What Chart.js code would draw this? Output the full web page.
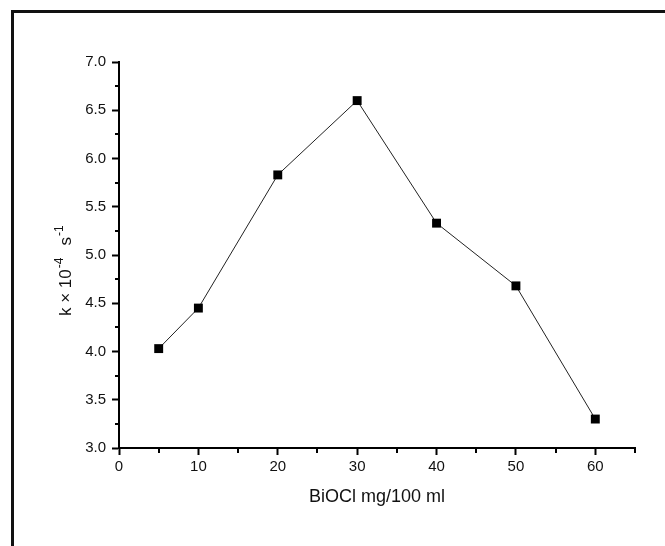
<!DOCTYPE html>
<html>
  <head>
    <script src="https://cdn.jsdelivr.net/npm/chart.js"></script>
    <style>
      body { margin: 0; background: #fff; }
      #rate { display: block; }
    </style>
  </head>

  <body>
    <canvas id="rate" width="665" height="546"></canvas>
  </body>

  <script>
    // BiOCl loading (mg/100 ml) vs rate constant k (x 10^-4 s^-1)
    const doses = [5, 10, 20, 30, 40, 50, 60];
    const rateK = [4.03, 4.45, 5.83, 6.6, 5.33, 4.68, 3.3];

    const xLabels = [0, 10, 20, 30, 40, 50, 60];
    const yLabels = [3.0, 3.5, 4.0, 4.5, 5.0, 5.5, 6.0, 6.5, 7.0];

    const FONT = "'Liberation Sans', Arial, sans-serif";

    function isLabelled(list, v) {
      return list.some((l) => Math.abs(l - v) < 1e-6);
    }

    // outer frame + minor ticks + y title with superscripts
    const extras = {
      id: "extras",
      beforeDraw(chart) {
        const ctx = chart.ctx;
        ctx.save();
        ctx.fillStyle = "#111";
        ctx.fillRect(11, 10, 665, 3);
        ctx.fillRect(11, 10, 3, 546);
        ctx.restore();
      },
      afterDraw(chart) {
        const ctx = chart.ctx;
        const area = chart.chartArea;
        const xs = chart.scales.x;
        const ys = chart.scales.y;
        ctx.save();
        ctx.strokeStyle = "#000";
        ctx.lineWidth = 2;
        ys.ticks.forEach((t) => {
          if (isLabelled(yLabels, t.value)) return;
          const py = Math.round(ys.getPixelForValue(t.value));
          ctx.beginPath();
          ctx.moveTo(area.left - 4, py);
          ctx.lineTo(area.left, py);
          ctx.stroke();
        });
        xs.ticks.forEach((t) => {
          if (isLabelled(xLabels, t.value)) return;
          const px = Math.round(xs.getPixelForValue(t.value));
          ctx.beginPath();
          ctx.moveTo(px, area.bottom);
          ctx.lineTo(px, area.bottom + 5);
          ctx.stroke();
        });

        // y axis title: k × 10^-4 s^-1
        ctx.translate(71, 316);
        ctx.rotate(-Math.PI / 2);
        ctx.fillStyle = "#111";
        ctx.textBaseline = "alphabetic";
        ctx.textAlign = "left";
        let cx = 0;
        const parts = [
          ["k \u00d7 10", 17, 0, 1],
          ["-4", 12, -8, 12],
          ["s", 17, 0, 1],
          ["-1", 12, -8, 0],
        ];
        parts.forEach(([txt, size, dy, gap]) => {
          ctx.font = size + "px " + FONT;
          ctx.fillText(txt, cx, dy);
          cx += ctx.measureText(txt).width + gap;
        });
        ctx.restore();
      },
    };

    const ctx = document.getElementById("rate").getContext("2d");

    const chart = new Chart(ctx, {
      type: "line",
      data: {
        datasets: [
          {
            label: "k",
            data: doses.map((d, i) => ({ x: d, y: rateK[i] })),
            borderColor: "#222",
            borderWidth: 1,
            backgroundColor: "#000",
            pointStyle: "rect",
            pointRadius: 6.3,
            pointBorderWidth: 0,
            pointBackgroundColor: "#000",
            tension: 0,
            fill: false,
          },
        ],
      },
      options: {
        responsive: false,
        animation: false,
        layout: {
          padding: { top: 62, right: 30, left: 0, bottom: 0 },
        },
        plugins: {
          legend: { display: false },
          tooltip: { enabled: false },
        },
        scales: {
          x: {
            type: "linear",
            min: 0,
            max: 65,
            afterFit: (s) => {
              s.height = 98;
            },
            border: { display: true, color: "#000", width: 2 },
            grid: {
              drawOnChartArea: false,
              drawTicks: true,
              tickLength: 7,
              tickWidth: 2,
              tickColor: (c) =>
                c.tick && isLabelled(xLabels, c.tick.value) ? "#000" : "rgba(0,0,0,0)",
            },
            ticks: {
              stepSize: 5,
              autoSkip: false,
              maxRotation: 0,
              padding: 3,
              color: "#111",
              font: { family: FONT, size: 15 },
              callback: (v) => (isLabelled(xLabels, v) ? String(v) : ""),
            },
            title: {
              display: true,
              text: "BiOCl mg/100 ml",
              color: "#111",
              font: { family: FONT, size: 18 },
              padding: { top: 0, bottom: 38 },
            },
          },
          y: {
            min: 3,
            max: 7,
            afterFit: (s) => {
              s.width = 119;
            },
            border: { display: true, color: "#000", width: 2 },
            grid: {
              drawOnChartArea: false,
              drawTicks: true,
              tickLength: 7,
              tickWidth: 2,
              tickColor: (c) =>
                c.tick && isLabelled(yLabels, c.tick.value) ? "#000" : "rgba(0,0,0,0)",
            },
            ticks: {
              stepSize: 0.25,
              autoSkip: false,
              padding: 6,
              color: "#111",
              font: { family: FONT, size: 15 },
              callback: (v) => (isLabelled(yLabels, v) ? v.toFixed(1) : ""),
            },
          },
        },
      },
      plugins: [extras],
    });
  </script>
</html>
